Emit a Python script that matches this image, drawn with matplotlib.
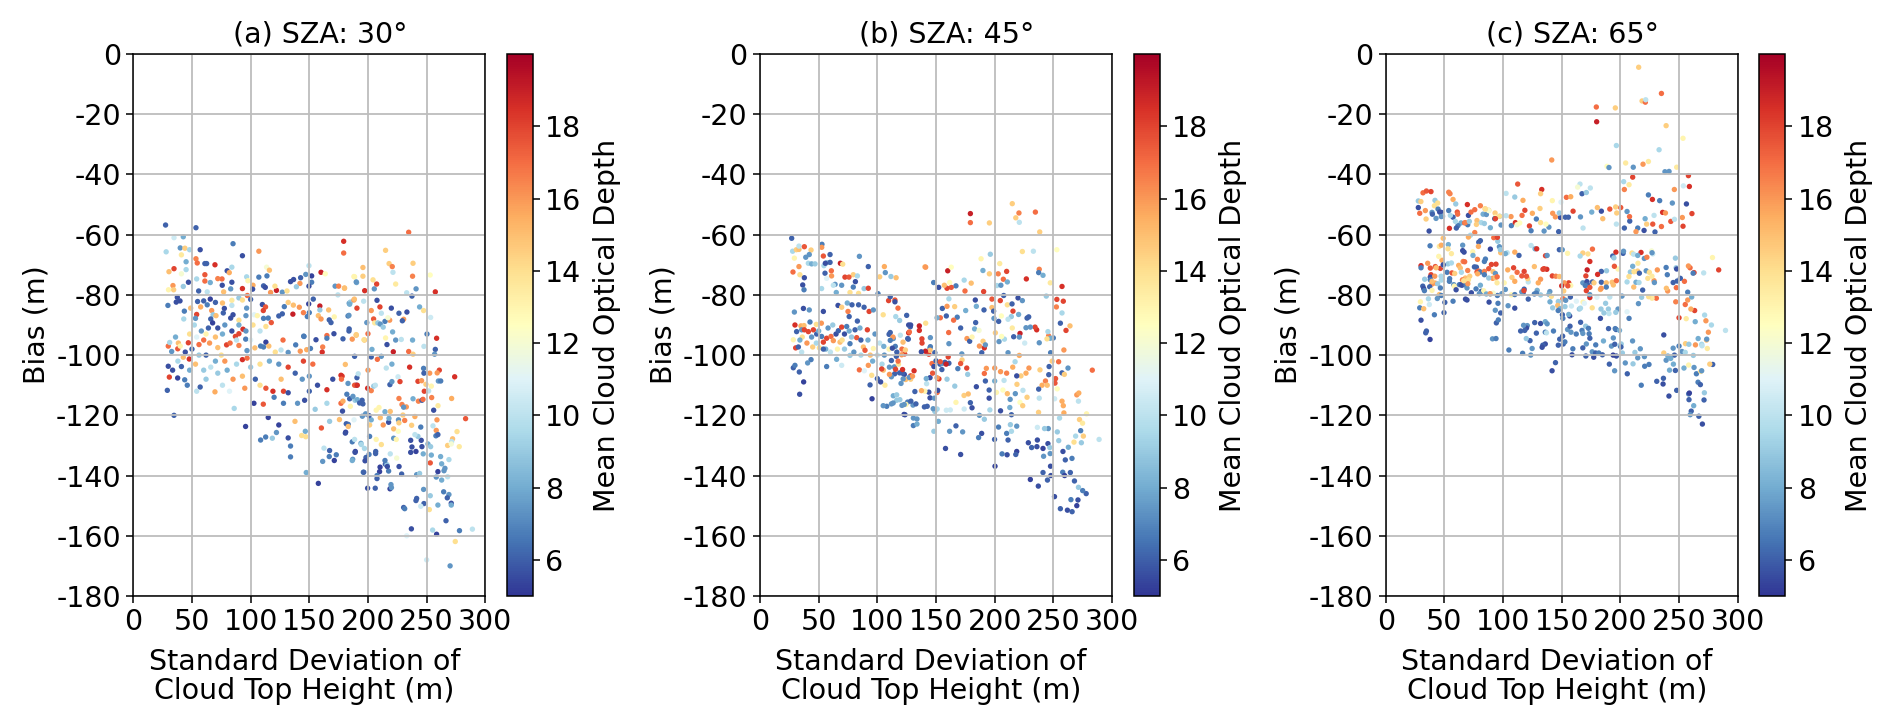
import matplotlib
matplotlib.use('Agg')
import matplotlib.pyplot as plt

# (std of cloud top height, bias, mean cloud optical depth)
sza30 = [
(27.5,-56.8,6.1),(53.4,-57.7,6.1),(34.7,-61,10.5),(42.6,-60.7,8),(28,-65.7,9.5),(40,-64.4,7.4),(44,-64.5,14.5),(48,-65,9.5),(57,-65,5.6),(41,-66.7,13.5),
(53.4,-68,16.5),(45,-69,8),(54.5,-69.4,17),(61,-69.6,6.1),(62.5,-69.6,6.1),(85,-63,6.7),(107,-65.5,16),(93,-67,5.6),(69.6,-70,18.5),(34.7,-71.3,18),
(30.4,-72.3,15),(45,-71.6,9.5),(41,-73,12),(61,-73.3,17.5),(80,-72,5.6),(84,-70.8,9.5),(81.8,-72.6,15.5),(113.6,-70.8,12),(116,-71.8,15),(107,-74.1,6.7),
(113.9,-73.7,6.7),(75.6,-74.7,17),(72,-74.6,16.5),(54,-74.7,9.5),(47,-75.8,5.6),(61,-75.4,17),(84,-75.8,5.6),(96.6,-74,9.5),(97.7,-75.3,13),(65.6,-75.9,8),
(75.8,-76.8,5.6),(42.6,-77.2,9),(33.8,-76.9,16),(34.4,-78.3,14.5),(30,-78.3,13),(55.7,-78.7,6.1),(63,-79,10),(83,-78,7.4),(77,-79,15),(93,-77.9,18.5),
(102,-76.8,15.5),(101.7,-78.1,5.6),(111,-77,6.1),(112.5,-77.5,5.6),(122,-78.5,19),(120.7,-77.1,14),(117,-79.2,16),(127,-79.1,7.4),(131,-78.7,14),(134,-75.6,5.6),
(136.6,-74.9,5.6),(142.6,-74.3,6.1),(147,-73.2,7.4),(149.7,-70.3,10),(152,-73.7,5.3),(152,-75.8,6.7),(149.7,-77.1,5.6),(142,-76.2,16),(139,-77.3,9),(160,-72.5,19),
(163.6,-73,12.5),(172,-77.1,7.4),(175,-77.1,16.5),(180,-77.8,15),(174.4,-80,10),(188.6,-74,13),(190.3,-75.9,8),(29.5,-83.5,6.7),(37.5,-80.8,5.6),(36.6,-82.4,5.6),
(39.8,-82,5.6),(48.9,-84.4,15),(43.5,-85.4,6.7),(43,-88,9.5),(54,-86.5,18),(53,-87.8,7.4),(57.4,-84,15.5),(54.8,-82.2,6.1),(60,-82,6.1),(65.6,-81.4,5.3),
(63,-83.3,6.7),(70,-82.5,6.1),(76,-82.7,15),(77.6,-84.5,5.6),(84,-81.8,13.5),(84,-83.5,10),(90,-81,9),(97.2,-80.2,17),(100,-81.5,6.1),(93,-81.7,14),
(66.8,-85.2,16),(76.7,-86,6.1),(68,-86.6,9),(66,-88,6.1),(85,-86.6,5.6),(83,-87.7,5.6),(70.5,-86.9,15),(67.6,-89.3,5.3),(90,-88.4,14),(96,-86.9,7.4),
(96.6,-84.4,7.4),(110,-83.2,5.6),(112.7,-84,17.5),(110.8,-85.2,18),(103,-86.6,11),(105.7,-86.9,13),(111,-87.8,6.7),(113,-90.5,14),(117.6,-89.2,17.5),(115,-87.7,6.7),
(124,-87,6.1),(127,-86.3,6.1),(128.7,-83.9,6.7),(132,-82.5,14.5),(136.4,-83.4,15),(136,-86.4,19),(141.5,-84.1,16),(145,-85.9,16.5),(149.5,-83,5.3),(153.4,-81.4,6.1),
(159,-83.7,19),(159,-85,9),(150,-85.9,6.7),(148.3,-87.2,6.7),(157.7,-86.9,15),(160,-88,16),(166.5,-85,15),(167,-88.3,6.1),(168.5,-89.2,6.1),(171.3,-87.3,13),
(184,-82.8,7.4),(185,-82.4,9),(190.6,-84.4,18),(188,-81.7,16),(183,-87,6.7),(184,-91.3,6.1),(190,-93.4,15),(197,-95,15),(171,-92.9,5.6),(165,-93.5,17),
(165,-94.4,6.7),(155.7,-94.9,5.6),(145.5,-93.8,6.7),(161.4,-97.3,16.5),(161,-99,18.5),(29.8,-97,17),(32.7,-98.8,7.4),(31,-95.8,9.5),(38.4,-96,15),(37.9,-97.9,17.5),
(46.9,-95.9,18),(44.3,-99,5.6),(47.7,-101.3,18.5),(42.6,-100.7,15),(33.5,-105,5.6),(29.8,-103.7,5.6),(38,-102,9.5),(41,-103.8,6.1),(43.8,-108.2,6.7),(30.7,-107.3,18),
(37.8,-107.6,5.3),(29,-111.7,6.1),(57,-110.6,6.1),(34.7,-120,6.1),(69.6,-112.2,15.5),(86,-117.7,9.5),(95.7,-123.7,5.3),(102.8,-116,5.3),(110.8,-116.3,17.5),(108.5,-128.2,6.7),
(112.8,-127.2,6.7),(118.5,-127.6,9),(122,-125.7,7.4),(124,-123.2,5.3),(115,-120.7,5.3),(132,-127.5,5.6),(134,-130.2,6.7),(134,-133.8,6.7),(147.4,-139,8),(157.7,-142.6,5.3),
(143.5,-126.7,14),(147,-127.1,14),(146.6,-125.3,8),(137.8,-122,15),(160.3,-124.2,17.5),(167.3,-122,9),(162.5,-130.9,10),(167.3,-131.7,6.1),(161.4,-135.3,7.4),(167,-133.7,6.7),
(173,-133.1,6.7),(171.3,-135,5.3),(186.6,-128.8,6.7),(181,-125.6,5.3),(183.2,-123,6.7),(189.2,-132,5.3),(187,-134.6,7.4),(194,-129.3,8),(79.5,-96.6,18),(82.5,-96,17),
(87,-93.8,18),(90,-92.9,18),(93.5,-91.4,18.5),(95.8,-94.7,6.7),(90,-96.8,16.5),(96.9,-98.5,7.4),(103.6,-97.6,15),(108.5,-97,6.7),(113,-95.7,5.3),(111,-97.3,6.7),
(115.5,-97,15),(127.6,-95,17),(121,-99,14),(125.9,-98.3,10),(132,-99.1,7.4),(138.4,-96.6,6.7),(145.2,-93.7,6.7),(142.3,-98.7,16),(147.8,-98.2,15.5),(151,-97.8,6.7),
(56,-96.5,17),(60,-95,17),(65,-96,16),(72,-97.5,15),(62,-100,6.1),(70,-102,8),(75,-100,14),(78,-102,16),(93,-101.5,18.5),(97,-101,17),
(85,-108,16),(93,-107,15),(95,-111,16),(104,-108,6.1),(108,-110,14),(113,-111,17.5),(119,-112,18.5),(128,-112,18),(132,-112.5,5.6),(126,-108,15),
(145,-102,18),(153,-103,17),(150,-107,7.4),(157,-110,5.6),(165,-111.5,18.5),(170,-108,5.6),(178,-107,18),(182,-113,6.7),(190,-110,5.3),(195,-115,6.1),
(120,-114,6.7),(128,-116,6.7),(140,-116,7.4),(146,-115,5.6),(150,-112,6.1),(155,-118,9),(165,-116,9.5),(177,-116,17),(185,-117,13),(189,-115,9),
(52,-90,9.5),(58,-92,7.4),(64,-91,6.1),(72,-91,5.6),(78,-90,7.4),(84,-92,5.6),(90,-90,8),(96,-92,7.4),(102,-90,14),(108,-92,10),
(48,-93,14),(54,-94,11),(62,-93,13),(70,-94,15),(76,-93,8),(88,-95,10),(100,-95,11),(56,-100,9),(66,-104,10),(72,-106,9),
(80,-105,8),(88,-103,9.5),(100,-104,9),(108,-103,14),(116,-102,8),(124,-103,7.4),(132,-104,18),(138,-106,6.1),(144,-108,7.4),(60,-105,9),
(53,-103,15),(48,-105,8),(40,-97,13),(36,-94,8),(50,-98,6.1),(46,-110,6.7),(54,-112,10),(62,-108,9),(76,-110,10),(82,-112,11),
# right part of the panel
(234.7,-59.2,17),(179.3,-62.2,18.5),(179.3,-66.1,17),(215,-65.2,14.5),(218,-69.6,14.5),(220.7,-70.6,16.5),(221.3,-72.5,10),(238.4,-69.5,14.5),(238,-73.8,16.5),(223.6,-76.4,13.5),
(253,-73.4,12.5),(241,-78,7.4),(205.4,-78,7.4),(207.4,-76.4,18),(204.3,-75,14),(197.2,-78.6,18.5),(190,-75.7,7.4),(195.7,-70.9,15),(195.7,-73.8,14.5),(188,-73.9,13),
(180,-77.7,15),(233,-79.3,10),(237.5,-80.4,6.1),(257.4,-79,18.5),(207.7,-81.8,5.6),(210.2,-84,18),(202.8,-85.2,16),(188.4,-81.4,15),(184.4,-83.1,8),(196.3,-82.1,10),
(219.9,-84.4,5.6),(226.4,-86.1,6.1),(233.2,-85.7,5.6),(230.4,-88.1,16),(229.3,-88.6,6.1),(244,-84,8),(247.4,-85.2,14),(253.4,-87.5,10.5),(218.5,-88.4,16),(214.5,-88.8,6.7),
(211.4,-86.1,10),(217,-87.6,12),(204.8,-88,17.5),(205.7,-89.3,13.5),(208.4,-89.3,9),(210.5,-89.7,7.4),(213,-90.7,9),(199,-89.2,7.4),(221,-92.3,8),(183.8,-92,6.1),
(183.8,-86.8,7.4),(178.7,-94.6,6.1),(186.6,-94.7,16),(190,-93.2,14.5),(196.6,-94.9,14),(200,-92.9,17),(215,-94.3,13),(223.6,-95,7.4),(228.4,-94.8,10),(238,-95,8),
(216.2,-96.5,5.6),(203.4,-98.1,8),(221.6,-98.9,19),(234.7,-98.8,17),(238.4,-99.7,14.5),(247.7,-97.1,10),(250.3,-93,6.7),(258.5,-94.4,18.5),(257.4,-98.1,6.1),(256.8,-99.7,7.4),
(188.6,-100.4,6.1),(202.8,-100.6,6.1),(211.4,-100.4,7.4),(208,-101.4,17),(180.7,-103.1,15),(220.4,-103,8),(215.6,-104.3,10),(235.5,-104,18.5),(247.4,-104.4,6.7),(247.7,-106,6.1),
(252.6,-106,16),(260.8,-105,18),(259,-105.9,16),(273.9,-107.2,18.5),(190.6,-107.5,6.1),(191.7,-106.2,10),(200,-105,16),(183,-109.4,7.4),(177,-106.7,18.5),(177.4,-108,17),
(188.6,-110,17.5),(190.9,-110,18.5),(199.7,-111,18.5),(202.8,-111.8,16.5),(204.9,-110.3,9),(206.3,-110,10),(218.7,-109.8,6.1),(220.4,-108.8,7.4),(225.6,-107.2,10.5),(227.3,-108.8,18),
(242.6,-108.7,18),(245.7,-108.5,16),(249.4,-109.7,14.5),(254,-110.3,13),(260,-108.6,7.4),(262,-108.6,6.7),(248,-112,18),(251.7,-111.9,10),(254.3,-114.1,16.5),(271.3,-114.4,15.5),
(238.4,-114.5,8),(226.4,-114.4,16.5),(243,-115.3,16.5),(246,-115,6.1),(246.9,-114.7,17),(229,-116.4,16.5),(232.7,-117.2,16),(230.4,-117.3,7.4),(259.7,-116.8,13.5),(256,-118.3,5.6),
(178.3,-118.6,5.6),(178.7,-115.3,15.5),(184.4,-114.5,6.1),(187.2,-113.7,7.4),(190.9,-114.8,8),(192.9,-115.9,6.1),(195.7,-116.2,6.1),(209.4,-117.4,13),(207,-118.3,13),(214.5,-118.8,8),
(219,-118.7,15),(229.8,-119.9,14.5),(283.2,-121.1,17.5),(258.8,-121.5,16),(240,-120.4,15.5),(231.3,-121.7,16.5),(226,-121.5,7.4),(226.4,-122.5,14.5),(217.6,-122.3,5.6),(217.9,-121,8),
(210.5,-120.8,15),(213,-123.2,16),(201.4,-123.2,14.5),(202.8,-121.5,8),(195.2,-120.3,7.4),(198,-119.5,7.4),(200.9,-120.1,6.1),(188.1,-121.5,11),(175.7,-121.4,15),(181.5,-122.8,6.1),
(183.2,-123.7,15),(180.7,-125.9,5.6),(221.9,-124.5,15),(225.8,-125.3,12.5),(237.2,-123.3,14.5),(245,-123.9,6.7),(255.4,-123.5,10),(275.9,-125.4,14),(258.2,-125,16),(257.9,-126.8,6.7),
(259.6,-126.4,6.1),(201.4,-127,6.7),(188.6,-128,10),(194.3,-129.7,9.5),(207,-128,13),(211.4,-129.7,14),(221.9,-127.6,7.4),(224.1,-128,13),(236.4,-128.3,5.6),(245.4,-128.3,5.6),
(242.6,-127,9),(240,-126.4,10),(237.5,-130.5,5.6),(246,-130.4,5.6),(236.4,-132.3,5.6),(240.9,-132,5.3),(247.1,-132.8,8),(251.1,-129.5,8),(253.4,-130.4,9),(254,-133.2,8),
(261.9,-133.7,8),(267.9,-130,14.5),(272.1,-127.8,15),(271.3,-128.7,10),(271,-129.5,12),(277.8,-130.4,13.5),(269,-134.7,9.5),(262.8,-136.1,8),(253.1,-135.8,17.5),(259.6,-138.7,5.3),
(265.6,-137.6,7.4),(264.8,-138.4,7.4),(189,-132.3,5.6),(186.6,-135,8),(200.9,-133,6.7),(206.5,-132.7,6.1),(198.3,-134,6.1),(197.5,-135.1,5.6),(219,-132.8,10),(224.5,-134.2,12),
(214.8,-136.2,6.1),(216.2,-136.4,9),(209.9,-138.7,5.3),(217.6,-138.5,6.7),(228.7,-139.5,6.1),(241.5,-139.7,7.4),(244,-139.3,9),(196,-138.9,6.7),(207.7,-140,6.7),(258.2,-140.5,7.4),
(262.8,-141.5,8),(267.9,-140.4,10),(219.6,-143,7.4),(218.8,-144.4,5.3),(199.7,-144.2,5.6),(206.2,-144.2,6.1),(247.4,-144.6,7.4),(253.1,-146.7,9),(264.5,-145.4,6.7),(269,-146.3,7.4),
(240.9,-148.3,6.1),(247.7,-149.3,6.1),(245,-150.2,10.5),(267.6,-147.4,6.1),(271,-149.2,5.6),(271,-149.8,8),(259.6,-149.8,8),(230.4,-150.6,6.1),(231.3,-151,6.7),(252.3,-151.3,14),
(266.5,-155,6.1),(237,-157.7,5.6),(255.1,-158.1,9.5),(258.5,-159.5,5.3),(278,-158.3,6.7),(289,-157.8,10),(274.4,-161.9,14),(241.5,-147.6,6.1),(220,-144,7.4),(207.7,-141,6.1),
(196.4,-138.9,6.1),(210.3,-137.2,5.3),(214.5,-135,6.7),(216.5,-137,5.6),(226.5,-137,5.6),(206.6,-132,6.1),(197,-131,9.5),(250,-168,10.5),(233,-160,11),(270,-170,7.4),
]

sza45 = [
(27,-61.2,6.1),(27.8,-65.5,9.5),(31,-65,14.5),(33.2,-64.9,15),(33.2,-63.8,10),(37.8,-64,17.5),(43.5,-65.1,14.5),(52.8,-63.2,6.7),(52.6,-64.2,16),(54,-67.1,17.5),
(29.3,-67.8,13),(39,-67.5,7.4),(42,-66.6,7.4),(59.7,-66.6,6.1),(57,-69.3,9),(59.7,-69.2,6.1),(41.2,-69.5,9.5),(44,-69.7,8),(46.9,-69.7,9),(54.5,-70.3,9.5),
(55.7,-69.5,5.6),(33.2,-70.6,16),(28.1,-72.4,17),(34,-73.3,14),(37.8,-74.3,5.6),(55.4,-72.8,6.1),(60.8,-72,17),(68.5,-69.5,19),(70.5,-69.8,14),(84.7,-67.2,7.4),
(92.3,-70.6,6.1),(106,-70.6,15.5),(106.8,-72.6,7.4),(111.6,-73.9,9),(116,-74.3,15),(140.6,-70.7,15.5),(102,-74,14.5),(79.5,-73.3,14.5),(72.4,-74.1,18),(75.8,-74.1,17.5),
(83,-73.7,9.5),(81.3,-75.6,5.6),(61,-73.7,16),(56.8,-74.5,11),(64,-76.5,7.4),(69.6,-76.8,7.4),(62.5,-76.8,10),(79.5,-77.4,6.7),(36.4,-76.7,5.6),(37.5,-78.3,6.7),
(65,-79.2,8),(52.5,-77.9,9.5),(76.7,-79.2,14),(84,-79.5,14),(88.7,-77.9,9),(92.3,-77.8,18),(100.6,-79.6,6.7),(29.3,-85.7,7.4),(37,-84.5,5.6),(42,-85,7.4),
(54,-85.5,5.6),(66.5,-83.5,5.6),(69.6,-84.1,14.5),(74.4,-82.7,8),(78.4,-83.3,6.1),(84,-83.3,6.1),(88.7,-84.1,6.1),(93,-85.5,18),(96.6,-85,7.4),(105,-86.6,14),
(109.6,-81.9,18),(115,-81.7,17.5),(111,-80.6,6.1),(115,-82.3,5.6),(117.6,-84.4,17),(125,-86.8,6.1),(75,-85.5,16.5),(76,-87.2,6.1),(83,-88.7,6.1),(115.7,-87.2,9.5),
(119,-88.5,9),(126.7,-90,5.6),(29.8,-90,18.5),(34.9,-90.3,15.5),(37.5,-90.2,15),(42.6,-89,6.7),(48,-89.8,14),(52.3,-89.4,16),(31.2,-92.2,6.1),(35.5,-91.6,7.4),
(37.8,-91.6,18),(41.2,-92.2,18),(45.5,-91.6,18),(48.3,-93,6.1),(52.5,-93.8,6.7),(56.8,-94.4,18),(60.5,-93.8,17),(64.8,-93,5.6),(66.8,-91.9,6.1),(69.6,-90.7,18),
(73.9,-90.5,6.7),(81,-91.6,6.1),(85.2,-91,8),(91.5,-91.6,18),(30.4,-97.6,18),(32.7,-97.3,6.1),(28.4,-94.9,13),(35.5,-99,10),(43.5,-101.5,6.7),(40.6,-102.6,7.4),
(28.4,-104.2,6.1),(29.8,-103.4,6.7),(33.5,-105.6,6.1),(37.2,-108.9,5.3),(33.8,-113,5.6),(44.9,-97.3,14.5),(50.6,-97.6,14),(54,-95.7,18),(62.5,-95.2,16),(68.2,-95.7,15),
(76.7,-96.2,6.7),(82.4,-94.2,17.5),(88.1,-97.3,15),(89.5,-98.4,17.5),(96.6,-97.8,13),(56.8,-103.8,6.7),(65.3,-101.4,8),(69.6,-103.4,10.5),(76.7,-100.1,9),(84.7,-104.9,17),
(88.9,-105.2,11),(92.3,-103.4,16),(95.2,-106.7,14),(100,-107.8,6.1),(93.8,-109.9,6.1),(95.5,-114.5,5.3),(106.5,-110,13.5),(108,-117,6.7),(112,-116.2,7.4),(116.5,-115,9),
(121,-116.7,7.4),(122.8,-119.7,5.3),(125.8,-115.6,6.7),(130.4,-116.6,7.4),(130.7,-120.9,7.4),(130.7,-123.4,6.7),(140.1,-117.2,6.1),(152,-122,8),(151,-117.9,9.5),(149,-118.7,9),
(113.6,-113.5,8),(116.5,-113.2,9),(124.4,-116.4,13),(143.9,-112.3,5.6),(151,-112.4,17),(152.5,-107.9,18),(142,-109.5,10),(140.5,-112,13),(137.6,-111.8,15.5),(132,-112.1,6.1),
(128.4,-106.9,18),(124.2,-108.1,15),(128.4,-108,14.5),(120.2,-109.4,7.4),(123,-106.4,5.6),(114.8,-106.2,6.1),(112,-107.2,7.4),(110.3,-106.4,16),(102.8,-108.9,5.6),(105.1,-105,15),
(110.3,-104,7.4),(114.5,-103.9,7.4),(112,-101.8,6.1),(116.2,-100.4,6.1),(123.3,-99.6,18),(120.7,-99.9,16),(110,-93.1,6.1),(113.6,-94.5,7.4),(121.9,-95.7,15),(125.9,-94.5,6.1),
(126.7,-92.6,18.5),(128.1,-90.6,6.1),(135.8,-91.8,18.5),(138.1,-96,18),(143.9,-99.7,18),(144.8,-97.7,7.4),(146.6,-102.8,17),(150,-101.9,6.1),(153.4,-103,6.1),(155,-104.8,6.1),
(50,-92,8),(58,-91,7.4),(62,-90,9),(72,-93,5.6),(76,-92,8),(78,-94,9),(86,-95,6.1),(92,-95,8),(98,-93,7.4),(102,-96,10),
(56,-98,8),(60,-99,10),(66,-98,13),(72,-98,9),(80,-99,7.4),(86,-100,9.5),(94,-100,15),(100,-100,10),(106,-100,7.4),(110,-98,13),
(36,-94,14),(40,-96,16),(44,-94,7.4),(34,-95,8),(48,-96,9.5),(54,-98,6.1),(70,-95,14),(96,-102,8),(104,-103,9.5),(118,-103,14),
# middle and right of the panel
(215,-49.7,14.5),(220.7,-52.8,16.5),(234.7,-52.5,17),(218,-54.4,14.5),(221,-55.9,10),(179.3,-53,19),(179.3,-56,17),(195.5,-56.1,14.5),(238.4,-59.1,14.5),(253,-65,12.5),
(233,-65.5,10),(223.6,-65.6,14),(196.3,-66.5,9),(188.4,-68,13),(204.3,-69.6,13.5),(160,-72,19),(163,-70.8,12.5),(141.2,-70.8,16),(190,-71.9,8),(203,-73,16.5),
(210.2,-72.2,18),(195.5,-73,14.5),(238,-71.5,16.5),(237.5,-72.6,6.7),(241.2,-73.5,8),(227,-74.7,18.5),(207.4,-74.8,17),(210.8,-75.7,8),(174,-75.1,9.5),(180,-76.1,15),
(247.4,-76,13.5),(257.4,-77.2,18.5),(201.9,-76.9,9.5),(205.3,-76.8,7.4),(167,-77,6.7),(163,-77.5,17.5),(159.4,-77.8,18),(152.3,-77.5,5.6),(157.1,-76.8,15),(148,-75.9,6.7),
(174.7,-78.7,17),(190.6,-78.9,18),(161.6,-75.9,12.5),(207.7,-80.2,6.1),(219.9,-81,5.6),(223.6,-81.9,7.4),(244,-80.4,9),(253,-81.5,18),(258.5,-82.1,18),(252.6,-84,16.5),
(257.4,-86,9.5),(256,-89.4,6.1),(264.2,-90.3,15),(260.8,-91.8,18),(246,-93.6,16.5),(245.4,-92.2,9.5),(250,-94.3,6.7),(247.4,-94.4,8),(259,-98.3,16),(247.7,-99.2,6.7),
(238,-95.9,7.4),(244.6,-94.6,14),(235.8,-91.6,18.5),(234.4,-90.7,18),(230.4,-90.7,7.4),(226.7,-90.9,7.4),(221.6,-92.8,19),(216.2,-93.9,6.1),(221,-94,7.4),(225.6,-96,10.5),
(215,-91,13.5),(227.6,-87.7,6.1),(229,-87.3,6.1),(220.4,-86.5,8),(214.2,-87.2,9),(211.4,-88.1,10),(205.7,-87,12.5),(203.4,-88.8,6.1),(199.4,-87.8,7.4),(215.6,-85.4,18),
(210.8,-83.3,14),(214.8,-83,6.1),(204.8,-81.9,18),(197.7,-81.4,17.5),(183.5,-81.7,5.6),(184.4,-83.8,8),(190.9,-85,6.1),(197.7,-84.2,15),(199.1,-85.4,6.1),(168.1,-87.4,6.7),
(165,-88.4,17),(158.8,-87,6.1),(153.7,-87.6,17),(155.4,-84.5,6.1),(159.4,-83.8,16),(161,-81.3,9.5),(165.9,-83.9,14.5),(175.3,-85.2,8),(171,-91,6.1),(183.8,-89.2,6.1),
(182.9,-91.3,8),(186.7,-91.8,12),(160.8,-92.5,17),(176.4,-94.5,16),(178.7,-95.4,6.1),(161,-96.2,7.4),(180.7,-94,13),(187,-97,16),(190.1,-95.4,14.5),(191.2,-97.6,18.5),
(192.1,-96.6,7.4),(189,-99.2,6.1),(211.4,-99.2,7.4),(203.7,-95.5,7.4),(208.3,-94.7,9.5),(200.6,-92.6,14.5),(205.9,-93.8,12.5),(150.9,-87.6,8),(135.8,-90.3,19),(128.4,-90,5.6),
(141.2,-89.4,14),(127.3,-92.3,17),(138,-94.6,18),(145.2,-94.2,7.4),(145.2,-97.2,6.7),(144.9,-98.4,15),(141,-98.7,19),(137.5,-98.9,5.6),(126.4,-94.7,6.1),(111,-92.5,6.1),
(113.3,-94,16),(119.6,-93.4,10),(115.3,-97.1,6.7),(112.8,-97.7,5.6),(121,-98,17),(123.9,-98.3,14.5),(116.6,-99,6.1),(111,-95.1,6.7),(105.5,-97.1,8),(283.2,-105,17),
(262.5,-104.3,7.4),(257.4,-105.9,6.1),(259.4,-106.4,14.5),(254.5,-102.2,17),(249,-102,14.5),(246.4,-103.8,6.1),(246.1,-106.5,6.1),(251.9,-107.8,17.5),(251.4,-109.3,17.5),(243.3,-108.6,16.5),
(240.4,-110,15.5),(237.5,-111.3,6.1),(244.8,-110,15),(238.6,-104.9,14.5),(229.2,-104.3,16),(226.7,-106,15.5),(222.4,-106.9,14.5),(218.8,-106.9,5.6),(219,-109.7,14.5),(221,-100.1,15.5),
(215.4,-104,15.5),(217.4,-102.2,9.5),(210.2,-106,16.5),(205,-105.5,16),(200,-104.3,16),(192.9,-104.4,16),(191.2,-106.1,17),(200,-108.6,8),(208,-108.4,10),(192.1,-108.6,6.1),
(195.3,-111.6,6.1),(195.3,-114.3,5.6),(201.5,-112.4,13),(207,-111.6,12.5),(210.8,-112.8,15),(217.6,-112.8,7.4),(213.2,-114.7,7.4),(212.9,-117.4,8),(221.6,-115.7,12.5),(223.9,-116.8,14.5),
(224.1,-111.7,10),(227.6,-114,14.5),(238,-114.3,10),(237.4,-119,14.5),(253.3,-111.2,12.5),(251.1,-114.5,10.5),(257.4,-115.3,15.5),(271.4,-115.3,10),(270,-113.2,16),(271.7,-112.6,15.5),
(258.5,-116.8,15.5),(259,-119.2,15.5),(278.3,-119.5,13),(272.3,-121.4,14.5),(274.9,-122.6,13.5),(255.3,-120.9,9.5),(289,-128,10),(275.6,-126.9,14.5),(273.3,-125.1,6.7),(269,-126.9,9.5),
(273.9,-129.1,9),(267.6,-128.9,14),(262.8,-130.6,8),(265.9,-134.3,6.7),(260.2,-134.8,6.1),(258.2,-132,5.6),(258,-138.9,6.7),(264.5,-139,6.1),(259.6,-140,5.3),(268,-141.8,6.1),
(271.4,-143.9,9),(278,-146,6.1),(271,-148.1,5.6),(253.4,-125.5,9),(245.7,-124.4,7.4),(242.5,-124.4,9),(254.6,-128.4,9),(245.4,-129.4,5.6),(241.2,-131,5.3),(247,-130.7,9),
(247.3,-132.7,7.4),(241.7,-133.6,7.4),(247.6,-136.9,5.6),(241.2,-139,6.1),(247.9,-140,5.6),(230.4,-141.3,5.3),(237.2,-143.5,5.6),(228.7,-129.1,5.6),(231.5,-130.7,6.1),(236.4,-128.2,5.6),
(236,-130.4,5.6),(218.8,-132,5.3),(218,-133,6.1),(210.6,-133.1,5.6),(206.3,-132.8,6.7),(200.3,-136.9,5.3),(211.4,-128.2,6.1),(210.2,-126,6.7),(199.9,-128,6.1),(203.3,-123.9,6.7),
(188.9,-126,5.6),(186.3,-127.4,6.7),(172.7,-125.5,7.4),(167,-123.5,6.1),(161.6,-125.3,7.4),(148.2,-125.3,9),(171,-133,5.6),(158.1,-131,5.6),(133.8,-121.2,7.4),(133.8,-122.9,8),
(123.6,-119.8,5.6),(218.8,-123.6,7.4),(214.3,-125.3,9.5),(213.4,-123.1,9),(214.3,-119.8,6.1),(236.4,-124,10.5),(191.2,-121.3,9),(187,-120,7.4),(205,-118.5,5.6),(195.9,-118.2,9.5),
(179.3,-115.8,6.1),(180.7,-117.5,5.6),(174,-117.9,10.5),(167,-115.7,13),(158.8,-118.3,10.5),(162.2,-118.2,10.5),(147.6,-117.8,7.4),(142.5,-117,6.1),(132.9,-116.2,6.1),(128.6,-115.3,6.1),
(122.9,-116.4,7.4),(119.2,-114.8,9),(113.5,-115.9,7.4),(105,-116.8,7.4),(144.9,-114.2,5.6),(148.6,-114.3,7.4),(151.5,-111.7,5.6),(166,-110.3,9),(173.9,-113.4,14.5),(177.5,-112.9,15),
(184.4,-110.5,5.6),(119,-105.9,6.1),(121.5,-106,6.1),(144.9,-107.5,5.6),(150.9,-107.5,16),(159.4,-108,9),(148.2,-103.8,5.6),(155.3,-102.8,7.4),(161,-102.7,6.1),(157.6,-102.4,6.1),
(172.2,-101.6,14.5),(172,-99.6,7.4),(168.6,-104.5,6.7),(171,-102.8,17.5),(176.2,-104.3,18),(177,-106.4,9),(158.6,-103,19),(160.4,-100.6,18),(153.6,-102.2,17.5),(147.1,-106,17.5),
(141.7,-107.8,8),(127.2,-107.4,7.4),(149,-99.2,6.1),(117.7,-102,17),(103.7,-104.6,18),(115.5,-104.7,18),(121.5,-104.8,18.5),(131.3,-105.2,18.5),(130,-107,16),(122,-107.9,7.4),
(256,-151,6.1),(262,-151.5,5.6),(266,-152,6.1),(265,-148,6.7),(270,-150,5.3),(275,-145,6.7),(251,-147,5.6),(245,-141.5,6.1),
]

sza65 = [
(31.8,-46.1,17),(34.7,-45.5,17.5),(38.6,-45.7,18),(53.7,-45.9,16.5),(54.8,-46.4,16.5),(57.4,-48.3,15.5),(27.8,-48.8,9),(30,-49,14.5),(42,-48.6,9),(44.3,-49.5,14),
(41.5,-50.4,14),(59.7,-49.8,9),(27.8,-51,5.6),(29,-52.9,17),(33.8,-52,16),(39.5,-52.6,7.4),(39.8,-53.2,6.1),(44.6,-51.5,6.7),(47.4,-52.6,5.6),(34.4,-54.8,14.5),
(42.9,-54.6,7.4),(53.7,-52,6.7),(48.6,-53.9,9),(61,-52.5,17.5),(61.3,-53.2,17),(57.4,-54.2,6.1),(64.2,-56.1,8),(61.6,-57,6.7),(60.2,-57.8,6.1),(54.3,-57.9,18.5),
(37,-58.8,5.6),(69.6,-50,18.5),(67.3,-56.1,17),(69.9,-56.7,6.7),(70.5,-53.6,5.6),(72.7,-52.5,17),(75.9,-51.7,17),(80.7,-50.4,16.5),(84.7,-51.4,14.5),(83,-53.2,8),
(85.8,-53.3,7.4),(87.8,-51.9,14.5),(93.2,-52.8,14.5),(93.5,-54.2,13),(97.2,-53.9,9),(77.8,-55.3,15),(77.3,-56.6,14.5),(81.5,-56,9.5),(84.1,-56.3,9),(89.2,-57.7,8),
(75.9,-59.3,16.5),(72.2,-60.2,9.5),(70.5,-60.8,15.5),(80.7,-62,6.1),(79.3,-62.5,6.1),(79,-63.9,15.5),(49,-61.2,15),(53.4,-63.3,8),(45.7,-63.9,13.5),(53.1,-64.7,14),
(56,-66.3,13.5),(37.8,-63.7,6.7),(65.6,-63.5,7.4),(65.6,-65.3,5.6),(66.8,-65.8,5.6),(74.2,-65.7,13),(78.2,-68.2,16.5),(74.4,-66.9,8),(84.1,-68.9,6.7),(85,-68.1,6.7),
(89.2,-64.8,5.3),(94,-69.8,18),(90.1,-69.9,18),(96.9,-64,7.4),(95.5,-62.2,9),(92.1,-61,17),(95.2,-60.9,18),(30.1,-70.3,18.5),(30.1,-71,6.7),(35.8,-69.5,16),
(38,-71.1,17.5),(42.3,-70.6,17.5),(46.6,-71.2,18),(48,-68.5,15.5),(45.2,-67.2,13),(49.4,-70.2,9.5),(53.1,-69.7,9),(56,-69.4,9.5),(52.3,-72.5,6.7),(56.5,-72.7,17.5),
(62.2,-70.2,15.5),(63.6,-71.1,15),(66,-68.9,16.5),(67.3,-69,17),(64.5,-72.5,9.5),(69.9,-71.9,16.5),(75.6,-70.7,6.1),(77.3,-70.8,6.1),(79.2,-72.1,17),(77.8,-72.4,17.5),
(80.7,-72.4,6.7),(84.1,-72.2,16.5),(87.8,-71.3,17.5),(91.5,-72.3,15),(93.5,-72.9,7.4),(38.6,-73.3,18),(38,-74.1,5.6),(41.8,-73.8,16),(33.2,-74.8,9),(38,-75,6.7),
(42.3,-76.1,15.5),(39.5,-76.4,16),(47.2,-73.8,9.5),(47.4,-75.1,9.5),(54.5,-74.6,6.7),(58.8,-72.9,14.5),(67.9,-74.4,15),(71.6,-73.8,14.5),(70.5,-75,14),(65.4,-75,16.5),
(91.2,-74.5,16),(94.9,-76,13.5),(87.8,-74.4,9),(31.6,-77.1,6.1),(32.4,-77.9,5.6),(33,-78.6,6.7),(37.5,-77.3,6.1),(39.5,-75.5,15),(44.3,-76.3,9),(46.6,-77.7,6.7),
(39.5,-78.5,13),(54.3,-75.5,6.7),(58,-76.6,7.4),(58.5,-77.1,13),(62.8,-76.6,6.7),(64,-76.6,6.1),(65,-76.8,5.6),(68.5,-76.8,6.7),(69.3,-77.7,7.4),(60,-78.3,5.6),
(73,-79.3,5.6),(77,-78,6.7),(80.7,-76.8,8),(81.5,-78.8,6.1),(83.5,-78.6,13),(85.8,-79.7,8),(89.2,-79.7,8),(79.8,-79.6,7.4),(45.7,-79.9,15),(44,-81.2,7.4),
(57.4,-82.1,6.7),(68,-81.4,5.6),(69.3,-81.7,5.6),(88.1,-82.4,5.6),(95.2,-80.2,6.7),(95.7,-82.8,6.7),(36.4,-81.3,9.5),(29.6,-82.3,13),(29,-84.3,6.7),(32.4,-84.6,15),
(37.2,-83.2,10.5),(41.5,-86.6,6.7),(49.7,-85.9,6.1),(30.1,-88.4,5.6),(34.7,-92,6.1),(34.1,-92.6,6.1),(37.8,-94.8,5.3),(94.3,-89.3,6.1),(96,-88.3,6.7),
# above -60
(215.6,-4.4,14.5),(235,-13.1,17),(179.5,-17.6,17),(195.7,-17.9,14.5),(218.5,-15.6,14.5),(221.3,-16,17),(221.6,-15.2,10),(179.8,-22.5,19),(239,-23.8,14.5),(253.4,-28,13),
(196.6,-30.4,9.5),(233,-31.8,9.5),(141.5,-35.2,16),(204.5,-36.2,13.5),(223.9,-35.7,13.5),(219.3,-36.6,16),(188.6,-37.3,12.5),(190.3,-37.7,7.4),(211,-37.6,7.4),(248,-37.6,13.5),
(238,-39.1,7.4),(241.5,-39,7.4),(258,-40.4,18),(258.8,-44,18.5),(210.5,-40.9,18),(202.8,-42.4,9.5),(207.4,-43.4,13.5),(203.4,-45,16.5),(246,-45,16),(253.7,-43.8,10.5),
(165.6,-43.2,10),(163.6,-44.2,12),(174.4,-44.5,10),(112.5,-43.2,17.5),(133,-45,18.5),(132,-46.4,14.5),(102.6,-46.3,10),(110,-47.5,9),(117,-48.6,15.5),(154,-47.6,17),
(157.7,-47.4,15.5),(167.3,-46.4,6.1),(171,-46,9),(223.9,-46.8,6.7),(227.3,-48.3,18.5),(233.5,-48.7,6.7),(244.3,-49.5,7.4),(256.3,-49.8,5.6),(261,-53,18),(236,-52.6,18.5),
(238.4,-52.8,16),(252.8,-54.3,16),(243,-55.6,17.5),(246.1,-54.9,10),(253.4,-57.2,18),(235,-57.3,17),(227.6,-56.5,17.5),(222.4,-56.5,14.5),(228.7,-53.6,10),(221.1,-54.7,8),
(208,-55.5,6.1),(207.8,-54,17),(205.7,-52.3,7.4),(200.3,-51,17.5),(196,-50.8,14.5),(196.9,-52.8,14.5),(191,-51.5,17.5),(183.8,-52.2,5.6),(180.4,-51,15),(175.6,-52.5,8),
(159.7,-52.2,18),(166,-54.1,7.4),(185,-54.7,15),(196.6,-56.5,10),(203.4,-57.8,6.1),(214.8,-57.8,6.7),(220.2,-58.6,5.6),(213.3,-59,16),(229.5,-59.1,6.1),(168.2,-57.8,10),
(148.9,-54.3,5.6),(153.1,-54.2,6.1),(155.7,-54.2,6.1),(144.6,-54.1,16),(142.3,-52.9,16),(148,-52.8,9),(149.4,-49.2,11),(142,-48.7,13),(131.5,-51.3,14.5),(125,-52.9,15.5),
(118.6,-51.9,18),(116.2,-53.6,17),(106.8,-54,16),(102.6,-53.7,10),(96.9,-53.9,14),(92.9,-54.7,6.1),(93.5,-54.7,18),(87.8,-52,12),(85,-51.5,14),(55.1,-53.6,9.5),
(46,-52.5,5.6),(47.4,-54,7.4),(59.4,-55.6,9.5),(67.9,-56,16.5),(71.3,-55.6,9),(98.3,-56.8,7.4),(107.1,-57,6.7),(110.5,-56,18.5),(111.9,-56.7,12),(114.2,-56.1,12.5),
(122.5,-57.1,18),(128.4,-54.8,6.7),(132,-56,14),(139.1,-57.5,7.4),(123.9,-58.7,6.7),(135,-58.8,7.4),(147.4,-59,6.1),(136.6,-56.5,12.5),
# below -60
(136.2,-67,18),(123.9,-63.6,10),(127.3,-64.7,8),(110,-65.8,15.5),(103.5,-66,10),(98,-66,15),(97.7,-65,9),(102,-66.3,8),(113.6,-66.9,6.1),(128.7,-64.7,18.5),
(137.6,-66.9,7.4),(148,-65,6.1),(137.3,-71.5,18.5),(134,-71.5,18),(174,-68.9,18.5),(172.4,-66.4,14),(168,-66.1,14.5),(176.2,-64.8,17),(202.3,-66.2,6.1),(165.7,-67.1,9.5),
(150.5,-65,7.4),(155,-66.2,13),(193.5,-67.1,6.1),(194.5,-67.7,9),(202.7,-65.5,7.4),(209.9,-66.1,14),(239,-70.9,6.7),(240,-73.3,6.7),(247.5,-71,9),(259.4,-71,17),
(262.8,-72.6,18),(248.4,-75.4,6.1),(198,-71.4,13),(220.4,-67.9,7.4),(227.6,-66.4,10.5),(226.6,-65.4,12),(217.6,-65.9,18.5),(222.6,-67.5,16.5),(227,-66,7.4),(210.5,-70.5,8),
(214.7,-72.1,14.5),(223.4,-74.5,14),(228.7,-75.3,16),(222,-72,7.4),(205.7,-75.7,9.5),(196.2,-65.8,18.5),(194.9,-70.5,17.5),(188.2,-72,9),(183.8,-72.2,6.1),(171.7,-71.7,19),
(170.6,-73.7,18),(180.6,-73.2,18.5),(176.2,-75.7,6.1),(168,-76,7.4),(142,-73.7,18),(156,-76,18),(157.7,-76.9,13),(152.3,-76,16),(129.1,-78.5,8),(126.7,-70.6,15),
(121.5,-75.7,10),(121,-74.6,14.5),(139.9,-78.9,7.4),(139.1,-79.8,8),(118,-78.1,6.1),(117.1,-79.4,6.1),(116,-79,7.4),(183.8,-75.8,6.1),(171.5,-75.6,5.6),(172,-76.6,6.1),
(170.1,-76.9,6.7),(171,-78.6,18),(174,-77.5,17.5),(183,-78.2,15.5),(188,-76,15),(193,-75.8,15),(196.6,-75.3,17),(194,-76.7,15),(188,-77.4,6.7),(177.5,-76,14.5),
(183.7,-77.8,16),(174,-80.9,18.5),(176,-84.3,14),(168.2,-82.4,13),(173.9,-79.9,7.4),(151.6,-81.3,14),(107.1,-80,13),(151,-81.3,17),(147.1,-82.2,9),(141.2,-80.5,14),
(146.6,-83.5,15),(132,-80,9),(126.7,-79.7,6.7),(128.4,-79.4,6.7),(121.5,-81.4,6.1),(110,-79.9,6.7),(99,-79.6,7.4),(102,-78.2,7.4),(91.6,-79.4,12),(89,-79.6,16),
(84.1,-73.3,6.7),(70,-76.3,16),(43,-71,15),(66.5,-75.3,14),(93.4,-74.3,15),(78.3,-73,15.5),(112,-72.5,17),(118,-72.2,18),(116,-73.7,17.5),(132,-74.8,16),
(135,-71.3,18),(145,-73.8,16.5),(148,-73.9,15),(150,-77,18.5),(157.4,-80.7,6.1),(155.2,-77,17.5),(151.7,-78.7,14.5),(117.8,-78.6,18),(130,-76,15.5),(101,-76,13),
(107.6,-74.2,14.5),(110,-75.5,15.5),(120,-73.8,17.5),(104,-71.7,15.5),(95,-74,17),(109,-71,18),(49,-70,5.6),(47.4,-63.5,15.5),(50.4,-82.5,6.1),(47.3,-80.2,6.7),
(93.4,-85.1,7.4),(98,-86,6.1),(110,-84.4,5.6),(104.3,-83.6,7.4),(140,-82.3,8),(142.3,-84.3,9),(153.4,-81.8,7.4),(156.8,-87,5.6),(165,-84.7,9),(166.1,-89.1,6.1),
(155,-91.5,7.4),(170.4,-90.4,9),(169.3,-82.8,11),(166,-84.4,9.5),(162.5,-82.1,11),(158.3,-83.7,10.5),(152.8,-83.9,9),(148.7,-84.6,8),(189.8,-84.7,9),(187.4,-82.8,9),
(191,-80.7,10),(180,-80.8,11),(183,-87.8,5.6),(198,-84.7,7.4),(196.1,-85.8,9),(201.4,-80.4,7.4),(218.1,-80.8,9),(215.4,-82.9,7.4),(196.3,-91.5,6.1),(195.6,-91.2,6.7),
(189.9,-91.2,6.1),(199.3,-91.8,8),(207.4,-87.8,6.7),(205.7,-85.6,11),(190.3,-86.2,10),(183.5,-84.7,9),(186,-86,9),(147,-85.2,6.7),(156,-86.5,8),(150.6,-86.6,6.1),
(151,-87.8,6.7),(157.1,-90.4,6.1),(167.3,-91.8,6.7),(172.8,-91.1,6.7),(157.9,-92.4,7.4),(162.4,-93,6.7),(150.8,-93.7,6.1),(120.7,-90.2,7.4),(115,-92,6.1),(120,-91,5.6),
(127,-89.2,6.1),(132,-89.5,5.6),(136,-88.9,8),(91,-94.6,7.4),(94,-94.5,6.7),(143,-92,6.7),(136,-92.4,6.7),(123,-95.2,6.1),(118.5,-91.8,6.1),(117.5,-90.1,7.4),
(119.8,-94.5,9),(168,-92.8,7.4),(168,-97.6,6.1),(173.4,-92.9,6.7),(174,-94.4,6.1),(136,-96.3,5.6),(105,-98.3,6.7),(116.7,-99.4,6.7),(124.8,-97.8,7.4),(147.1,-96.7,6.1),
(133.9,-96.7,6.1),(133.3,-97.4,5.6),(123.6,-100,7.4),(171,-96.3,7.4),(176,-98.9,7.4),(179,-96.6,6.7),(185.6,-95.3,8),(192.4,-97,7.4),(194,-94.3,7.4),(200.7,-96.3,9),
(199.7,-96.9,9),(201.7,-99.3,9),(195.2,-96.4,6.1),(210.4,-95.3,7.4),(217,-97.9,7.4),(204.2,-102.6,7.4),(210.8,-102.9,9),(220.7,-103.7,6.7),(212.4,-99.1,9),(205.9,-106.2,6.1),
(224.4,-103.1,6.7),(220.5,-100.5,7.4),(217.8,-110,6.7),(214.8,-100.9,7.4),(170.6,-100.3,6.1),(177.3,-100.7,5.6),(178.9,-99.3,6.1),(181.6,-99.3,6.7),(184.7,-99.9,6.1),(196.6,-100.3,5.6),
(200.5,-97.3,6.1),(193.8,-100,5.3),(195.1,-105.2,7.4),(190.6,-103,6.1),(151.3,-96.3,6.1),(152.7,-95.6,6.7),(148.3,-94.7,6.1),(137,-92.6,10),(128.4,-92.7,6.1),(159.5,-97.9,6.7),
(158.8,-99.9,5.6),(137.6,-89.6,7.4),(144.7,-102.5,6.1),(141.8,-105.2,5.6),(239,-101.7,7.4),(237,-93.3,5.6),(237,-99.3,14.5),(240.5,-100.3,8),(245,-97.7,7.4),(250,-97,6.7),
(255.5,-96.2,14.5),(258.4,-96.4,9),(252.5,-98.8,7.4),(264,-96.6,16),(269.3,-96.4,9.5),(266.3,-94.5,8),(275,-92.4,16),(273.4,-95,15),(277.6,-90,9.5),(271.8,-86.7,9.5),
(272.9,-88.6,16),(263.8,-88.9,8),(256.1,-87.9,13.5),(250,-87.6,18),(263.3,-85.2,18),(260.1,-84.7,15.5),(255.3,-83.2,17),(247.2,-82.3,16.5),(246.9,-67.8,9),(248,-71.4,5.6),
(245,-75.9,6.1),(258,-70.4,16),(262,-72.8,6.7),(271,-72.7,10),(278.5,-67.6,13),(283.8,-71.7,18),(289.6,-91.8,10),(273.6,-94.7,7.4),(269.6,-96.9,10),(274.1,-97.8,13.5),
(262.2,-100.1,9),(278.7,-103.1,6.1),(276.2,-103,14.5),(258.2,-103.3,13),(254.2,-104.3,8),(262.8,-104.1,7.4),(264.8,-106.2,6.7),(268.5,-105.4,14),(269.3,-105.2,7.4),(266.2,-109,6.7),
(268.2,-109.8,6.1),(271.6,-112.5,9),(258.2,-112.9,6.7),(258.8,-112.6,5.3),(258.5,-114.8,6.1),(271.3,-114.9,6.1),(262.5,-116.8,8),(260.4,-118.6,6.1),(259.5,-119.8,7.4),(266.9,-120.3,6.1),
(269.9,-122.9,5.6),(248,-111.7,6.1),(241.4,-113.6,5.6),(231,-108.7,6.1),(236.7,-107.7,6.1),(236.4,-109.6,5.6),(241.9,-105,8),(246.9,-105.1,6.1),(245.2,-103,8),(246.1,-100,6.1),
(242.9,-101.1,8),(255.3,-99.1,9.5),(257.4,-79.1,6.7),(257.4,-81.7,16),(260.8,-80.7,8),(254.6,-75.5,17),(247.7,-77.6,17),(251.1,-74.5,6.1),(230.7,-81.1,17),(227,-81.1,13.5),
(224.1,-80.6,14),(240.3,-78.7,16),(239.2,-77.8,15),(231.5,-71.7,16),(224.7,-72.5,14),(216.2,-72.8,6.1),(229,-75.9,7.4),(226.9,-73.8,13.5),(211.4,-77.4,15),(219,-78.4,6.1),
(213.3,-75.8,8),(208.5,-72.4,9),(211.6,-72.3,14),(207.3,-73.9,14),(215.9,-75.9,9.5),(215,-69.5,13.5),(211.3,-66.5,10),(214.8,-66.9,8),
]

titles = ['(a) SZA: 30°', '(b) SZA: 45°', '(c) SZA: 65°']
panels = [sza30, sza45, sza65]
cbar_ticks = [6, 8, 10, 12, 14, 16, 18]
bias_ticks = [0, -20, -40, -60, -80, -100, -120, -140, -160, -180]
std_ticks = [0, 50, 100, 150, 200, 250, 300]

W, H = 1892, 725
FS = 20.5
plt.rcParams['font.size'] = FS
plt.rcParams['axes.unicode_minus'] = False

fig = plt.figure(figsize=(W / 100, H / 100), dpi=100)
lefts = [133.3, 760, 1385.7]
for left, title, pts in zip(lefts, titles, panels):
    ax = fig.add_axes([left / W, (H - 596) / H, 352 / W, 542 / H])
    cax = fig.add_axes([(left + 373.5) / W, (H - 596) / H, 26 / W, 542 / H])
    xs = [p[0] for p in pts]
    ys = [p[1] for p in pts]
    cs = [p[2] for p in pts]
    sc = ax.scatter(xs, ys, c=cs, cmap='RdYlBu_r', vmin=5, vmax=20, s=15, linewidths=0)
    ax.set_xlim(0, 300)
    ax.set_ylim(-180, 0)
    ax.set_xticks(std_ticks)
    ax.set_yticks(bias_ticks)
    ax.grid(True, color='#bdbdbd', linewidth=1.3)
    # title sits a little right of the axes centre, xlabel a little left
    ax.set_title(title, fontsize=FS, pad=8, x=0.531)
    ax.set_xlabel('Standard Deviation of\nCloud Top Height (m)', labelpad=8, linespacing=1.05, x=0.486)
    ax.set_ylabel('Bias (m)', labelpad=4)
    ax.tick_params(length=5, width=1.1, pad=4)
    cb = fig.colorbar(sc, cax=cax, ticks=cbar_ticks)
    cb.set_label('Mean Cloud Optical Depth', labelpad=8)
    cb.ax.tick_params(length=5, width=1.1, pad=4)
    for spine in list(ax.spines.values()) + list(cax.spines.values()):
        spine.set_linewidth(1.1)

fig.savefig('out.png', dpi=100)
